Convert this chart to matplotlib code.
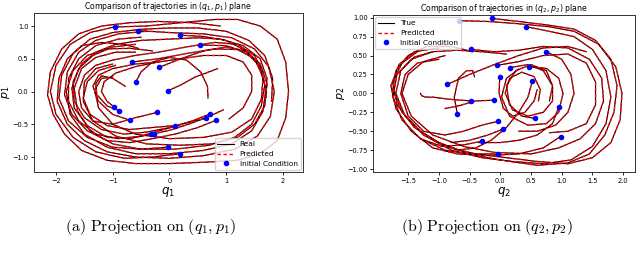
"""
Trajectory comparison in the (q1, p1) and (q2, p2) planes
"""
import matplotlib
matplotlib.use("Agg")
import matplotlib.pyplot as plt

plt.rcParams['mathtext.fontset'] = 'dejavusans'

# ---- panel (a): (q1, p1) trajectories ----
traj_q1 = [
    [-0.96, -0.4, 0.2, 0.8, 1.2, 1.6, 1.9, 2.05, 2.1, 2.05, 1.9, 1.6, 1.2, 0.6, 0.0, -0.6, -1.1, -1.55, -1.85, -2.05, -2.15, -2.1, -1.9, -1.6, -1.2, -0.7, -0.2, 0.4, 0.9],
    [-0.56, 0.0, 0.6, 1.1, 1.5, 1.75, 1.85, 1.78, 1.55, 1.15, 0.6, 0.0, -0.6, -1.1, -1.5, -1.8, -1.98, -1.95, -1.8, -1.55, -1.2, -0.8, -0.55],
    [0.19, 0.6, 1.0, 1.35, 1.6, 1.7, 1.65, 1.45, 1.1, 0.6, 0.0, -0.6, -1.1, -1.5, -1.75, -1.82, -1.7, -1.45, -1.1, -0.7, -0.3],
    [0.53, 1.0, 1.35, 1.58, 1.68, 1.62, 1.45, 1.15, 0.7, 0.1, -0.5, -1.0, -1.4, -1.62, -1.68, -1.55, -1.3, -0.95, -0.6],
    [-0.66, -0.2, 0.3, 0.8, 1.2, 1.5, 1.65, 1.62, 1.45, 1.1, 0.6, 0.0, -0.6, -1.0, -1.25, -1.32, -1.2, -1.0],
    [-0.18, 0.2, 0.6, 1.0, 1.35, 1.6, 1.72, 1.68, 1.5, 1.2, 0.75, 0.2, -0.4, -0.95, -1.35, -1.52, -1.5, -1.3, -1.0],
    [-0.59, -0.5, -0.3, 0.0, 0.3, 0.55, 0.67, 0.68],
    [-0.03, 0.2, 0.45, 0.7, 0.85],
    [-0.97, -1.1, -1.2, -1.15, -0.95, -0.6, -0.2, 0.2, 0.6, 1.0, 1.3, 1.45, 1.45, 1.3, 1.05],
    [-0.89, -1.1, -1.28, -1.3, -1.2, -1.0, -0.78],
    [-0.22, -0.6, -1.0, -1.35, -1.55, -1.6, -1.5, -1.3, -1.0, -0.6, -0.2, 0.3, 0.8, 1.2, 1.5, 1.65],
    [-0.69, -1.0, -1.25, -1.35, -1.25, -1.0, -0.6, -0.2],
    [0.72, 0.4, 0.0, -0.4, -0.8, -1.2, -1.5, -1.68, -1.7, -1.55, -1.3, -0.95, -0.5, 0.0, 0.5, 0.9, 1.3, 1.6, 1.72, 1.7],
    [0.64, 0.3, -0.1, -0.5, -0.9, -1.3, -1.6, -1.78, -1.78, -1.6, -1.3, -0.9, -0.5],
    [0.82, 0.5, 0.1, -0.3, -0.7, -1.1, -1.45, -1.72, -1.85, -1.8, -1.6, -1.3, -0.9, -0.4],
    [0.10, -0.3, -0.7, -1.1, -1.4, -1.52, -1.45, -1.25, -0.95],
    [-0.32, -0.7, -1.1, -1.45, -1.68, -1.72, -1.6, -1.35, -1.0, -0.6],
    [-0.28, 0.05, 0.4, 0.75, 0.95],
    [-0.03, -0.5, -1.0, -1.45, -1.78, -1.95, -1.9, -1.7, -1.4, -1.0, -0.5, 0.0, 0.5, 1.0, 1.4, 1.68, 1.82, 1.8],
    [0.19, -0.3, -0.8, -1.3, -1.7, -2.0, -2.1, -2.0, -1.75, -1.4, -0.9],
]
traj_p1 = [
    [0.985, 1.0, 1.05, 1.1, 1.1, 1.0, 0.8, 0.45, 0.0, -0.4, -0.75, -0.95, -1.05, -1.08, -1.1, -1.1, -1.05, -0.9, -0.65, -0.35, -0.05, 0.3, 0.65, 0.88, 1.0, 1.05, 1.07, 1.05, 1.0],
    [0.93, 0.9, 0.88, 0.82, 0.65, 0.38, 0.0, -0.38, -0.68, -0.88, -0.98, -1.02, -1.0, -0.92, -0.75, -0.5, -0.15, 0.2, 0.5, 0.7, 0.75, 0.72, 0.66],
    [0.86, 0.84, 0.78, 0.62, 0.38, 0.05, -0.3, -0.6, -0.8, -0.9, -0.95, -0.95, -0.85, -0.65, -0.35, 0.0, 0.32, 0.55, 0.65, 0.66, 0.62],
    [0.71, 0.7, 0.6, 0.4, 0.1, -0.22, -0.5, -0.7, -0.82, -0.88, -0.88, -0.8, -0.6, -0.3, 0.05, 0.35, 0.52, 0.6, 0.6],
    [0.45, 0.5, 0.58, 0.65, 0.64, 0.5, 0.22, -0.12, -0.42, -0.62, -0.7, -0.72, -0.65, -0.5, -0.25, 0.02, 0.2, 0.22],
    [0.37, 0.5, 0.62, 0.68, 0.62, 0.42, 0.12, -0.22, -0.5, -0.7, -0.8, -0.82, -0.8, -0.68, -0.45, -0.15, 0.15, 0.35, 0.42],
    [0.15, 0.3, 0.45, 0.52, 0.48, 0.3, 0.08, -0.1],
    [0.01, 0.1, 0.22, 0.3, 0.35],
    [-0.24, -0.15, 0.0, 0.15, 0.28, 0.38, 0.45, 0.5, 0.55, 0.55, 0.45, 0.25, 0.0, -0.25, -0.42],
    [-0.29, -0.22, -0.05, 0.12, 0.24, 0.2, 0.08],
    [-0.32, -0.4, -0.5, -0.45, -0.25, 0.0, 0.25, 0.4, 0.48, 0.55, 0.6, 0.68, 0.75, 0.72, 0.55, 0.3],
    [-0.44, -0.35, -0.15, 0.08, 0.25, 0.35, 0.42, 0.45],
    [-0.34, -0.45, -0.55, -0.62, -0.65, -0.58, -0.4, -0.15, 0.15, 0.42, 0.6, 0.72, 0.78, 0.8, 0.82, 0.8, 0.7, 0.5, 0.2, -0.1],
    [-0.41, -0.48, -0.58, -0.68, -0.72, -0.65, -0.45, -0.15, 0.2, 0.5, 0.7, 0.8, 0.83],
    [-0.44, -0.55, -0.65, -0.72, -0.78, -0.75, -0.6, -0.35, -0.05, 0.3, 0.6, 0.78, 0.88, 0.92],
    [-0.52, -0.55, -0.58, -0.52, -0.35, -0.1, 0.15, 0.32, 0.4],
    [-0.65, -0.72, -0.7, -0.52, -0.25, 0.05, 0.35, 0.55, 0.68, 0.72],
    [-0.65, -0.58, -0.48, -0.36, -0.28],
    [-0.85, -0.88, -0.85, -0.7, -0.45, -0.1, 0.25, 0.58, 0.8, 0.9, 0.95, 0.97, 0.97, 0.92, 0.78, 0.55, 0.2, -0.15],
    [-0.95, -1.0, -1.02, -0.92, -0.7, -0.35, 0.0, 0.4, 0.72, 0.9, 1.0],
]

# ---- panel (b): (q2, p2) trajectories ----
traj_q2 = [
    [-0.68, -0.2, 0.3, 0.8, 1.2, 1.6, 1.88, 1.98, 1.95, 1.8, 1.5, 1.1, 0.6, 0.1, -0.4, -0.9, -1.3, -1.6, -1.75, -1.7, -1.5, -1.2, -0.8, -0.45],
    [-0.13, 0.3, 0.8, 1.2, 1.55, 1.8, 1.9, 1.85, 1.7, 1.45, 1.1, 0.6, 0.0, -0.5, -1.0, -1.4, -1.68, -1.75, -1.6, -1.35],
    [0.42, 0.8, 1.2, 1.5, 1.72, 1.8, 1.72, 1.5, 1.15, 0.7, 0.2, -0.3, -0.8, -1.25, -1.55, -1.7, -1.62, -1.4, -1.1],
    [-0.47, -0.1, 0.3, 0.7, 1.1, 1.45, 1.65, 1.68, 1.55, 1.3, 0.95, 0.5, -0.1, -0.6, -1.1, -1.45, -1.6, -1.5, -1.25, -0.9],
    [0.75, 1.0, 1.15, 1.2, 1.1, 0.9, 0.6, 0.3],
    [-0.05, 0.3, 0.7, 1.1, 1.4, 1.55, 1.55, 1.4, 1.1, 0.8],
    [0.16, 0.45, 0.7, 0.85, 0.85, 0.7, 0.45, 0.2, 0.08, 0.15, 0.35, 0.55, 0.65, 0.62],
    [0.47, 0.75, 0.95, 1.02, 0.95, 0.75, 0.45, 0.15, 0.02, 0.1, 0.3],
    [-0.01, -0.02, 0.05, 0.2, 0.4, 0.55, 0.6],
    [0.52, 0.45, 0.3, 0.1, -0.15, -0.4, -0.7, -1.0],
    [-0.86, -0.5, -0.1, 0.3, 0.7, 1.1, 1.4],
    [-0.48, -0.8, -1.1, -1.22, -1.28, -1.3],
    [-0.11, -0.4, -0.7, -0.9],
    [-0.70, -0.75, -0.68, -0.55, -0.45, -0.42],
    [0.95, 0.85, 0.6, 0.3, 0.0, -0.35],
    [0.56, 0.35, 0.15, 0.1, 0.25, 0.5, 0.75, 0.85, 0.8],
    [-0.04, -0.3, -0.6, -0.9, -1.25, -1.5, -1.62, -1.55, -1.35, -1.0],
    [0.05, -0.2, -0.5, -0.8],
    [-0.29, -0.6, -0.95, -1.3, -1.6, -1.75, -1.68, -1.45, -1.1, -0.7, -0.3, 0.1],
    [0.98, 0.7, 0.3, -0.2, -0.7, -1.1, -1.45, -1.7, -1.78, -1.65, -1.4, -1.0],
    [-0.03, -0.5, -0.9, -1.3],
]
traj_p2 = [
    [0.96, 0.95, 0.92, 0.88, 0.82, 0.65, 0.35, 0.0, -0.35, -0.65, -0.85, -0.93, -0.9, -0.85, -0.8, -0.7, -0.5, -0.25, 0.05, 0.3, 0.5, 0.62, 0.62, 0.55],
    [0.99, 0.95, 0.9, 0.85, 0.7, 0.45, 0.1, -0.25, -0.55, -0.8, -0.92, -0.95, -0.88, -0.8, -0.65, -0.45, -0.15, 0.15, 0.4, 0.55],
    [0.88, 0.82, 0.75, 0.58, 0.3, -0.05, -0.4, -0.7, -0.88, -0.93, -0.9, -0.85, -0.75, -0.55, -0.3, 0.0, 0.3, 0.48, 0.55],
    [0.58, 0.55, 0.57, 0.62, 0.6, 0.45, 0.2, -0.1, -0.4, -0.6, -0.72, -0.8, -0.78, -0.7, -0.55, -0.3, 0.0, 0.25, 0.42, 0.5],
    [0.55, 0.45, 0.25, 0.0, -0.25, -0.42, -0.5, -0.5],
    [0.37, 0.42, 0.5, 0.52, 0.4, 0.15, -0.15, -0.4, -0.5, -0.52],
    [0.34, 0.38, 0.3, 0.1, -0.1, -0.25, -0.3, -0.22, 0.0, 0.2, 0.28, 0.22, 0.05, -0.1],
    [0.35, 0.33, 0.2, 0.0, -0.25, -0.4, -0.42, -0.3, -0.05, 0.2, 0.32],
    [0.22, 0.0, -0.2, -0.3, -0.25, -0.1, 0.05],
    [0.16, -0.05, -0.25, -0.45, -0.62, -0.72, -0.75, -0.65],
    [0.12, 0.25, 0.38, 0.5, 0.6, 0.62, 0.55],
    [-0.10, -0.08, -0.05, -0.05, -0.03, 0.0],
    [-0.09, -0.1, -0.17, -0.2],
    [-0.27, -0.05, 0.2, 0.3, 0.3, 0.22],
    [-0.18, -0.4, -0.55, -0.62, -0.65, -0.65],
    [-0.33, -0.3, -0.15, 0.1, 0.3, 0.38, 0.3, 0.1, -0.1],
    [-0.37, -0.42, -0.5, -0.55, -0.5, -0.3, 0.0, 0.25, 0.4, 0.45],
    [-0.47, -0.55, -0.62, -0.65],
    [-0.63, -0.68, -0.7, -0.6, -0.35, -0.05, 0.25, 0.45, 0.55, 0.57, 0.55, 0.52],
    [-0.57, -0.72, -0.8, -0.82, -0.8, -0.72, -0.5, -0.2, 0.1, 0.38, 0.55, 0.6],
    [-0.80, -0.8, -0.75, -0.6],
]

panels = [
    dict(qs=traj_q1, ps=traj_p1, xlabel=r'$q_1$', ylabel=r'$p_1$',
         title=r'Comparison of trajectories in $(q_1, p_1)$ plane',
         true_label='Real', legend_loc='lower right',
         xlim=(-2.39, 2.35), ylim=(-1.23, 1.2),
         xticks=[-2, -1, 0, 1, 2], yticks=[-1.0, -0.5, 0.0, 0.5, 1.0],
         yfmt='{:.1f}', caption=r'$\mathrm{(a)\ Projection\ on}\ (q_1, p_1)$'),
    dict(qs=traj_q2, ps=traj_p2, xlabel=r'$q_2$', ylabel=r'$p_2$',
         title=r'Comparison of trajectories in $(q_2, p_2)$ plane',
         true_label='True', legend_loc='upper left',
         xlim=(-2.07, 2.19), ylim=(-1.04, 1.036),
         xticks=[-1.5, -1.0, -0.5, 0.0, 0.5, 1.0, 1.5, 2.0],
         yticks=[-1.0, -0.75, -0.5, -0.25, 0.0, 0.25, 0.5, 0.75, 1.0],
         yfmt='{:.2f}', caption=r'$\mathrm{(b)\ Projection\ on}\ (q_2, p_2)$'),
]

fig = plt.figure(figsize=(6.4, 2.58), dpi=100)
rects = [[0.053, 0.333, 0.420, 0.617], [0.583, 0.333, 0.409, 0.609]]
caption_x = [0.235, 0.761]

for rect, cfg, cx in zip(rects, panels, caption_x):
    ax = fig.add_axes(rect)
    for i, (q, p) in enumerate(zip(cfg['qs'], cfg['ps'])):
        ax.plot(q, p, color='black', lw=0.8,
                label=cfg['true_label'] if i == 0 else None)
        ax.plot(q, p, color='red', lw=1.0, ls='--', dashes=(2.5, 1.8),
                label='Predicted' if i == 0 else None)
    ax.plot([q[0] for q in cfg['qs']], [p[0] for p in cfg['ps']], 'o',
            color='blue', markersize=3, ls='none', label='Initial Condition',
            zorder=5)

    ax.set_xlim(*cfg['xlim'])
    ax.set_ylim(*cfg['ylim'])
    ax.set_xticks(cfg['xticks'])
    ax.set_yticks(cfg['yticks'])
    ax.set_yticklabels([cfg['yfmt'].format(v).replace('-', '\u2212')
                        for v in cfg['yticks']])
    ax.tick_params(labelsize=4.8, length=2.5, width=0.6, pad=1.5)
    ax.set_xlabel(cfg['xlabel'], fontsize=8.5, labelpad=1)
    ax.set_ylabel(cfg['ylabel'], fontsize=8, labelpad=0)
    ax.set_title(cfg['title'], fontsize=5.6, pad=3)
    for sp in ax.spines.values():
        sp.set_linewidth(0.7)
        sp.set_color('#333333')
    ax.legend(loc=cfg['legend_loc'], fontsize=5.3, handlelength=2.2,
              borderpad=0.4, labelspacing=0.5, framealpha=0.8,
              edgecolor='#cccccc', fancybox=True, borderaxespad=0.3)

    fig.text(cx, 0.12, cfg['caption'], ha='center', va='center',
             fontsize=11.5, math_fontfamily='cm')

fig.savefig('out.png', dpi=100)
